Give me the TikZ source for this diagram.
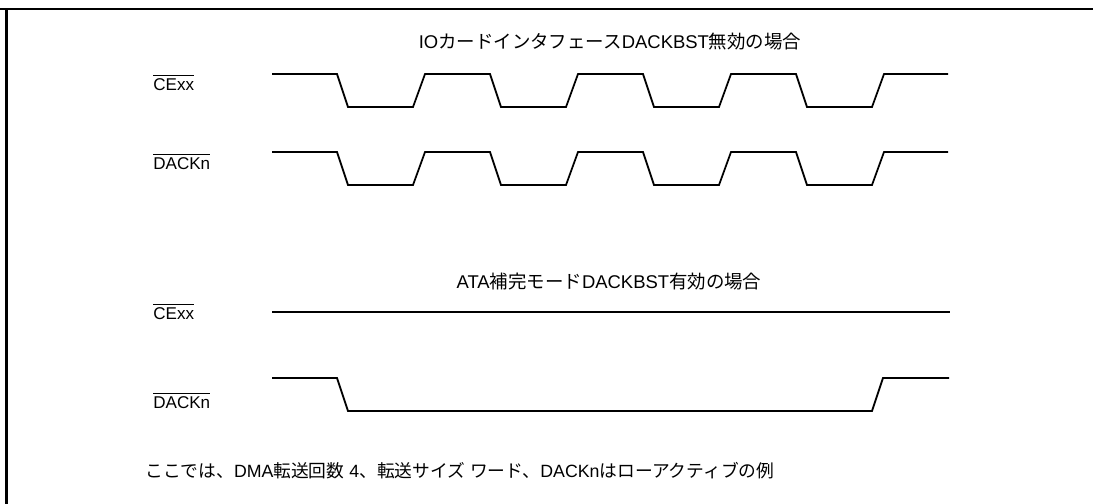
\documentclass[tikz,border=0pt]{standalone}
\usepackage{fontspec}
\setmainfont{Liberation Sans}
\newfontfamily\jp{Noto Sans CJK JP}
\usetikzlibrary{positioning}
\newcommand\negsig[1]{$\overline{\hbox{#1}}$}

\begin{document}
\begin{tikzpicture}[x=0.02cm, y=-0.02cm,
  wave/.style={line width=1pt},
  frm/.style={line width=1.2pt},
  sig/.style={anchor=base west, inner sep=0pt, font=\fontsize{9.7}{11}\selectfont},
  ttl/.style={anchor=base, inner sep=0pt, font=\fontsize{10.5}{12}\selectfont},
  note/.style={anchor=base west, inner sep=0pt, font=\fontsize{10.1}{12}\selectfont}]
\useasboundingbox (0,0) rectangle (1093,504);
% --- frame ---
\draw[frm] (0,9) -- (1093,9);
\draw[frm] (6.5,9) -- (6.5,504);
% --- IO card interface, DACKBST off ---
\node[ttl] (ttlA) at (610,48) {IO{\jp カードインタフェース}DACKBST{\jp 無効の場合}};
\node[sig] (ceA) at (153,90) {\negsig{CExx}};
\node[sig] (dackA) at (153,169) {\negsig{DACKn}};
\foreach \hi/\lo in {74/107,152/185}
  \draw[wave] (272,\hi) foreach \k in {0,...,3} {
    -- ({337+153*\k},\hi) -- ({348+153*\k},\lo)
    -- ({413+153*\k},\lo) -- ({425+153*\k},\hi)} -- (948,\hi);
% --- ATA mode, DACKBST on ---
\node[ttl] (ttlB) at (609,288) {ATA{\jp 補完モード}DACKBST{\jp 有効の場合}};
\node[sig] (ceB) at (153,319) {\negsig{CExx}};
\node[sig] (dackB) at (153,408) {\negsig{DACKn}};
\draw[wave] (272,312) -- (950,312);
\draw[wave] (272,378) -- (337,378) -- (348,411) -- (872,411) -- (883,378) -- (949,378);
% --- note ---
\node[note] (rem) at (145,477)
  {{\jp ここでは、}DMA{\jp 転送回数} 4{\jp 、転送サイズ} {\jp ワード、}DACKn{\jp はローアクティブの例}};
\end{tikzpicture}
\end{document}
